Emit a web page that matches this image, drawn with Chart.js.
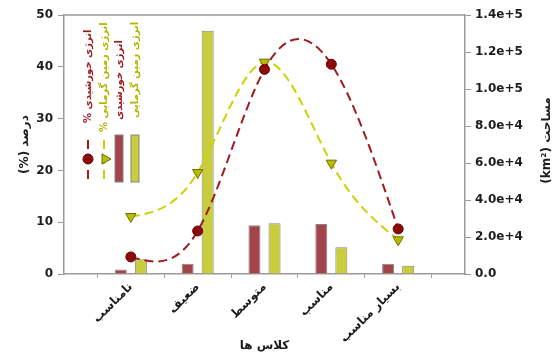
<!DOCTYPE html>
<html>
<head>
<meta charset="utf-8">
<script src="https://cdn.jsdelivr.net/npm/chart.js@4.4.1/dist/chart.umd.min.js"></script>
<style>
  html, body { margin: 0; padding: 0; background: #ffffff; }
  #wrap { width: 554px; height: 353px; position: relative; }
</style>
</head>
<body>
<div id="wrap"><canvas id="c" width="554" height="353"></canvas></div>
<script>
// Suitability classes (x axis)
const categories = ['نامناسب', 'ضعیف', 'متوسط', 'مناسب', 'بسیار مناسب'];

// Share of each class, percent (left axis)
const solarPercent = [3.3, 8.3, 39.5, 40.5, 8.7];
const geoPercent   = [11.1, 19.6, 40.9, 21.4, 6.6];

// Area of each class, km² (right axis)
const solarArea = [2500, 5500, 26300, 27000, 5600];
const geoArea   = [8000, 131500, 27400, 14400, 4500];

// Axis ticks
const percentTicks = [0, 10, 20, 30, 40, 50];
const areaTicks = [0, 20000, 40000, 60000, 80000, 100000, 120000, 140000];

// Names and axis titles
const solarName = 'انرژی خورشیدی';
const geoName = 'انرژی زمین گرمایی';
const xTitle = 'کلاس ها';
const yTitle = '(%) درصد';
const y2Title = 'مساحت';
const y2Unit = '(km²)';

const FONT = '"DejaVu Sans", "Liberation Sans", sans-serif';
const INK = '#1c1c1c';
const AXIS = '#9a9a9a';

const RED_LINE = '#9e1c20';
const RED_DOT = '#8a0a0a';
const YEL_LINE = '#cdd000';
const YEL_MARK = '#b9bc00';
const RED_BAR = '#a3434a';
const YEL_BAR = '#c9cd3b';

const toXY = arr => arr.map((v, i) => ({ x: i + 1, y: v }));

// Natural cubic spline through the pixel positions of a line dataset
function splinePath(ctx, pts) {
  const n = pts.length;
  if (n < 2) return;
  const h = [], M = new Array(n).fill(0);
  for (let i = 0; i < n - 1; i++) h.push(pts[i + 1].x - pts[i].x);
  if (n > 2) {
    const a = [], b = [], c = [], d = [];
    for (let i = 1; i < n - 1; i++) {
      a.push(h[i - 1]);
      b.push(2 * (h[i - 1] + h[i]));
      c.push(h[i]);
      d.push(6 * ((pts[i + 1].y - pts[i].y) / h[i] - (pts[i].y - pts[i - 1].y) / h[i - 1]));
    }
    const m = b.length;
    for (let i = 1; i < m; i++) {
      const w = a[i] / b[i - 1];
      b[i] -= w * c[i - 1];
      d[i] -= w * d[i - 1];
    }
    const sol = new Array(m);
    sol[m - 1] = d[m - 1] / b[m - 1];
    for (let i = m - 2; i >= 0; i--) sol[i] = (d[i] - c[i] * sol[i + 1]) / b[i];
    for (let i = 0; i < m; i++) M[i + 1] = sol[i];
  }
  ctx.moveTo(pts[0].x, pts[0].y);
  for (let i = 0; i < n - 1; i++) {
    const p0 = pts[i], p1 = pts[i + 1], hi = h[i];
    const s = (p1.y - p0.y) / hi;
    const m0 = s - hi * (2 * M[i] + M[i + 1]) / 6;
    const m1 = s + hi * (M[i] + 2 * M[i + 1]) / 6;
    ctx.bezierCurveTo(p0.x + hi / 3, p0.y + m0 * hi / 3,
                      p1.x - hi / 3, p1.y - m1 * hi / 3,
                      p1.x, p1.y);
  }
}

const smoothLines = {
  id: 'smoothLines',
  beforeDatasetDraw(chart, args) {
    const ds = chart.data.datasets[args.index];
    if (ds.type !== 'line') return;
    const pts = args.meta.data.map(p => ({ x: p.x, y: p.y }));
    const ctx = chart.ctx, a = chart.chartArea;
    ctx.save();
    ctx.beginPath();
    ctx.rect(a.left, a.top, a.right - a.left, a.bottom - a.top);
    ctx.clip();
    ctx.strokeStyle = ds.borderColor;
    ctx.lineWidth = ds.borderWidth;
    ctx.setLineDash(ds.borderDash);
    ctx.beginPath();
    splinePath(ctx, pts);
    ctx.stroke();
    ctx.restore();
  }
};

// Titles, top frame line and the vertical legend
const decor = {
  id: 'decor',
  afterDraw(chart) {
    const ctx = chart.ctx;
    const a = chart.chartArea;
    ctx.save();
    ctx.strokeStyle = AXIS;
    ctx.lineWidth = 1.5;
    ctx.beginPath();
    ctx.moveTo(a.left, a.top);
    ctx.lineTo(a.right, a.top);
    ctx.stroke();

    ctx.fillStyle = INK;
    ctx.font = 'bold 12px ' + FONT;
    ctx.textAlign = 'center';
    ctx.textBaseline = 'middle';
    ctx.fillText(xTitle, (a.left + a.right) / 2, 346);

    ctx.save();
    ctx.translate(25, (a.top + a.bottom) / 2);
    ctx.rotate(-Math.PI / 2);
    ctx.fillText(yTitle, 0, 0);
    ctx.restore();

    ctx.save();
    ctx.translate(547, (a.top + a.bottom) / 2 - 4);
    ctx.rotate(-Math.PI / 2);
    ctx.fillText(y2Unit + ' ' + y2Title, 0, 0);
    ctx.restore();

    const ds = chart.data.datasets;
    const items = [
      { d: ds[0], x: 88, bottom: 123, text: '% ' + ds[0].label, color: RED_LINE },
      { d: ds[1], x: 104, bottom: 132, text: '% ' + ds[1].label, color: '#b3b500' },
      { d: ds[2], x: 119, bottom: 120, text: ds[2].label, color: RED_LINE },
      { d: ds[3], x: 135, bottom: 118, text: ds[3].label, color: '#b3b500' }
    ];
    ctx.font = 'bold 10px ' + FONT;
    ctx.textAlign = 'left';
    items.forEach(it => {
      ctx.save();
      ctx.fillStyle = it.color;
      ctx.translate(it.x, it.bottom);
      ctx.rotate(-Math.PI / 2);
      ctx.fillText(it.text, 0, 0);
      ctx.restore();

      const d = it.d;
      if (d.type === 'line') {
        ctx.save();
        ctx.strokeStyle = d.borderColor;
        ctx.lineWidth = 2;
        ctx.setLineDash([9, 6]);
        ctx.beginPath();
        ctx.moveTo(it.x, 140);
        ctx.lineTo(it.x, 183);
        ctx.stroke();
        ctx.restore();
        ctx.save();
        ctx.fillStyle = d.pointBackgroundColor;
        ctx.strokeStyle = d.pointBorderColor;
        ctx.lineWidth = 1;
        Chart.helpers.drawPoint(ctx, {
          pointStyle: d.pointStyle,
          radius: d.pointRadius,
          rotation: d.pointStyle === 'triangle' ? 90 : 0,
          borderWidth: 1
        }, it.x + (d.pointStyle === 'triangle' ? 1 : 0), 159);
        ctx.restore();
      } else {
        ctx.save();
        ctx.fillStyle = d.backgroundColor;
        ctx.strokeStyle = d.borderColor;
        ctx.lineWidth = 1;
        ctx.fillRect(it.x - 4, 135, 8, 47);
        ctx.strokeRect(it.x - 4, 135, 8, 47);
        ctx.restore();
      }
    });
    ctx.restore();
  }
};

new Chart(document.getElementById('c'), {
  data: {
    datasets: [
      {
        type: 'line', label: solarName, data: toXY(solarPercent), yAxisID: 'y', order: 0,
        showLine: false, borderColor: RED_LINE, borderWidth: 2, borderDash: [9, 5],
        pointStyle: 'circle', pointRadius: 5, pointBackgroundColor: RED_DOT,
        pointBorderColor: '#6a0000', pointBorderWidth: 1, fill: false
      },
      {
        type: 'line', label: geoName, data: toXY(geoPercent), yAxisID: 'y', order: 1,
        showLine: false, borderColor: YEL_LINE, borderWidth: 2, borderDash: [9, 5],
        pointStyle: 'triangle', pointRotation: 180, pointRadius: 6,
        pointBackgroundColor: YEL_MARK, pointBorderColor: '#6e6e00', pointBorderWidth: 1, fill: false
      },
      {
        type: 'bar', label: solarName, data: toXY(solarArea), yAxisID: 'y2', order: 2,
        backgroundColor: RED_BAR, borderColor: '#858585', borderWidth: 1,
        categoryPercentage: 0.6, barPercentage: 0.6
      },
      {
        type: 'bar', label: geoName, data: toXY(geoArea), yAxisID: 'y2', order: 2,
        backgroundColor: YEL_BAR, borderColor: '#858585', borderWidth: 1,
        categoryPercentage: 0.6, barPercentage: 0.6
      }
    ]
  },
  options: {
    responsive: false,
    animation: false,
    devicePixelRatio: 1,
    layout: { padding: { top: 15, left: 0, right: 0, bottom: 0 } },
    plugins: { legend: { display: false }, tooltip: { enabled: false } },
    scales: {
      x: {
        type: 'linear', position: 'bottom', min: 0, max: 6, offset: false,
        afterBuildTicks: s => { s.ticks = categories.map((_, i) => ({ value: i + 1 })); },
        afterFit: s => { s.height = 79; s.paddingLeft = 0; s.paddingRight = 0; },
        ticks: {
          autoSkip: false, minRotation: 45, maxRotation: 45, padding: 2,
          color: INK, font: { family: FONT, size: 12, weight: 'bold' },
          callback: v => categories[v - 1] || ''
        },
        grid: { drawOnChartArea: false, drawTicks: true, tickLength: 4, color: AXIS, tickColor: AXIS },
        border: { display: true, color: AXIS, width: 1.5 }
      },
      y: {
        type: 'linear', position: 'left', min: 0, max: 50,
        afterBuildTicks: s => { s.ticks = percentTicks.map(v => ({ value: v })); },
        afterFit: s => { s.width = 64; s.paddingTop = 0; s.paddingBottom = 0; },
        ticks: { padding: 5, color: INK, font: { family: FONT, size: 12, weight: 'bold' } },
        grid: { drawOnChartArea: false, drawTicks: true, tickLength: 6, color: AXIS, tickColor: AXIS },
        border: { display: true, color: AXIS, width: 1.5 }
      },
      y2: {
        type: 'linear', position: 'right', min: 0, max: 140000,
        afterBuildTicks: s => { s.ticks = areaTicks.map(v => ({ value: v })); },
        afterFit: s => { s.width = 89; s.paddingTop = 0; s.paddingBottom = 0; },
        ticks: {
          padding: 4, color: INK, font: { family: FONT, size: 12, weight: 'bold' },
          callback: v => v === 0 ? '0.0' : v.toExponential(1)
        },
        grid: { drawOnChartArea: false, drawTicks: true, tickLength: 6, color: AXIS, tickColor: AXIS },
        border: { display: true, color: AXIS, width: 1.5 }
      }
    }
  },
  plugins: [smoothLines, decor]
});
</script>
</body>
</html>
